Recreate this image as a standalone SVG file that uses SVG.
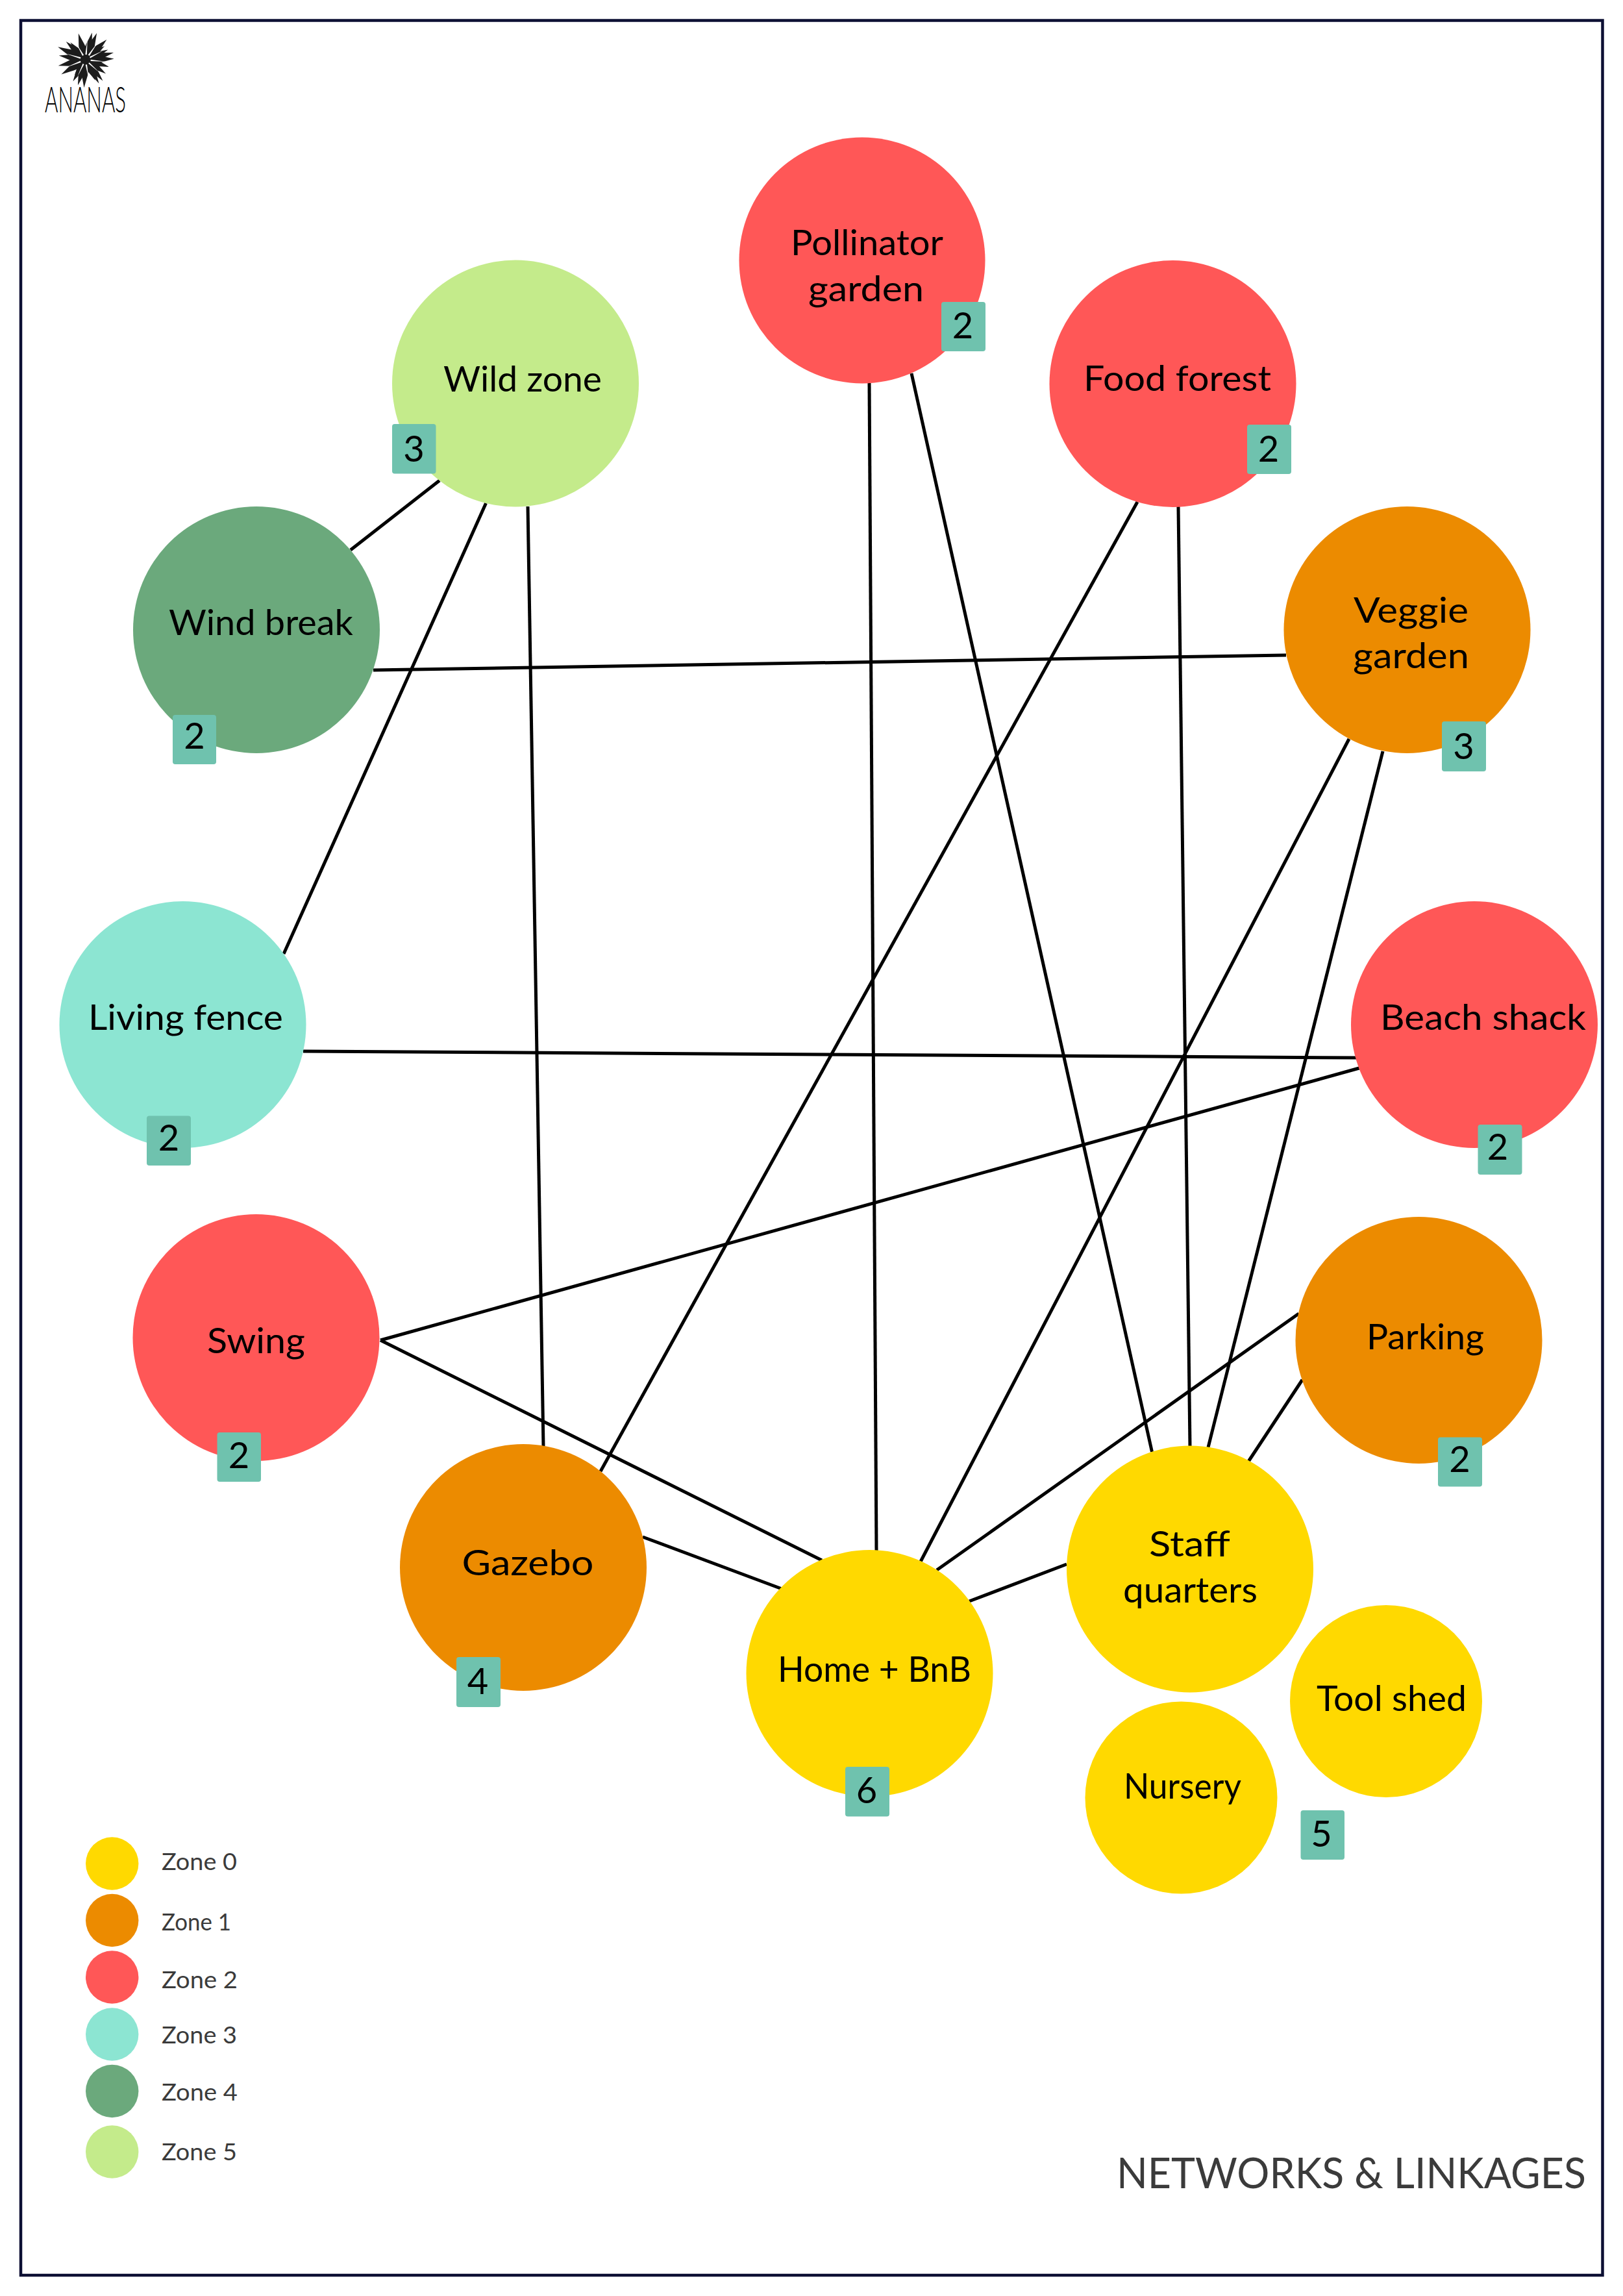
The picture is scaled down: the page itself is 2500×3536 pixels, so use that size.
<svg xmlns="http://www.w3.org/2000/svg" width="2500" height="3536" viewBox="0 0 2500 3536">
<style>
.lbl{font-family:Lato,"Noto Sans",sans-serif;font-size:55px;fill:#000}
.num{font-family:Lato,"Noto Sans",sans-serif;font-size:56px;fill:#000;text-anchor:middle}
.bdg{fill:#6fc2ae}
.leg{font-family:Lato,"Noto Sans",sans-serif;font-size:37px;fill:#3b3b3b}
.y{fill:#ffd900}.o{fill:#ec8b00}.r{fill:#ff5757}.m{fill:#8ce5d2}.g{fill:#6ba97c}.l{fill:#c4eb8b}
#connectors line{stroke:#000;stroke-width:5;fill:none}
</style>
<defs>
<path id="sp" d="M-.2 0L-.11 -.55L0 -1L.11 -.55L.2 0Z" fill="#1c1c1c"/>
<path id="sw" d="M-.025 -.2L.005 -.8L.035 -.2Z" fill="#fff"/>
</defs>
<rect width="2500" height="3536" fill="#fff"/>
<rect x="32" y="31.500" width="2436.500" height="3472.500" fill="none" stroke="#0c0f33" stroke-width="4.500"/>
<g id="logo">
<g transform="translate(131.700 92)">
<use href="#sp" transform="rotate(-15) scale(42)"/><use href="#sp" transform="rotate(13.500) scale(43)"/><use href="#sp" transform="rotate(23) scale(44.500)"/><use href="#sp" transform="rotate(46.500) scale(45)"/><use href="#sp" transform="rotate(54.400) scale(36)"/><use href="#sp" transform="rotate(66) scale(38)"/><use href="#sp" transform="rotate(75.800) scale(44.700)"/><use href="#sp" transform="rotate(88) scale(44)"/><use href="#sp" transform="rotate(106.700) scale(38)"/><use href="#sp" transform="rotate(124.400) scale(38)"/><use href="#sp" transform="rotate(140.500) scale(42)"/><use href="#sp" transform="rotate(150.400) scale(42)"/><use href="#sp" transform="rotate(154.700) scale(35)"/><use href="#sp" transform="rotate(183) scale(43)"/><use href="#sp" transform="rotate(196.700) scale(41)"/><use href="#sp" transform="rotate(210) scale(38.500)"/><use href="#sp" transform="rotate(215.500) scale(29)"/><use href="#sp" transform="rotate(239) scale(43.500)"/><use href="#sp" transform="rotate(257.600) scale(43)"/><use href="#sp" transform="rotate(279) scale(41.500)"/><use href="#sp" transform="rotate(295) scale(47)"/><use href="#sp" transform="rotate(313) scale(41)"/><use href="#sp" transform="rotate(319) scale(35.500)"/>
<use href="#sw" transform="rotate(5) scale(40)"/><use href="#sw" transform="rotate(35) scale(42)"/><use href="#sw" transform="rotate(62) scale(38)"/><use href="#sw" transform="rotate(95) scale(40)"/><use href="#sw" transform="rotate(132) scale(36)"/><use href="#sw" transform="rotate(170) scale(38)"/><use href="#sw" transform="rotate(205) scale(36)"/><use href="#sw" transform="rotate(248) scale(40)"/><use href="#sw" transform="rotate(287) scale(40)"/><use href="#sw" transform="rotate(330) scale(38)"/>
</g>
<text x="69" y="173" font-family="Lato,'Noto Sans',sans-serif" font-weight="300" font-size="56" fill="#000" textLength="125" lengthAdjust="spacingAndGlyphs">ANANAS</text>
</g>
<g id="connectors">
<line x1="677" y1="740" x2="540" y2="847"/>
<line x1="748.500" y1="775" x2="437" y2="1469"/>
<line x1="813" y1="780" x2="837" y2="2227"/>
<line x1="575" y1="1032" x2="1981" y2="1009"/>
<line x1="1339" y1="590" x2="1350" y2="2388"/>
<line x1="1404" y1="575" x2="1774.500" y2="2236"/>
<line x1="1752" y1="773" x2="925" y2="2266"/>
<line x1="1815" y1="780" x2="1833" y2="2227"/>
<line x1="2078" y1="1138" x2="1418" y2="2405"/>
<line x1="2130" y1="1157" x2="1861" y2="2229"/>
<line x1="467" y1="1619" x2="2089" y2="1629"/>
<line x1="2093.500" y1="1645" x2="586" y2="2064"/>
<line x1="586" y1="2064" x2="1266" y2="2403"/>
<line x1="990" y1="2367" x2="1203" y2="2446.500"/>
<line x1="1443" y1="2418" x2="2000.600" y2="2023"/>
<line x1="1493" y1="2466" x2="1643" y2="2409"/>
<line x1="1923.500" y1="2250" x2="2006" y2="2125"/>
</g>
<g id="n-pollinator"><circle class="r" cx="1328" cy="401" r="189.500"/><text class="lbl" x="1218" y="393" textLength="235" lengthAdjust="spacingAndGlyphs">Pollinator</text><text class="lbl" x="1245" y="464" textLength="178" lengthAdjust="spacingAndGlyphs">garden</text><rect class="bdg" x="1450" y="465" width="68" height="76" rx="4"/><text class="num" x="1483" y="521">2</text></g>
<g id="n-food-forest"><circle class="r" cx="1806.500" cy="591" r="190"/><text class="lbl" x="1669" y="602" textLength="289" lengthAdjust="spacingAndGlyphs">Food forest</text><rect class="bdg" x="1921" y="654" width="68" height="76" rx="4"/><text class="num" x="1954" y="710.500">2</text></g>
<g id="n-wild-zone"><circle class="l" cx="794" cy="590.500" r="190"/><text class="lbl" x="683" y="603" textLength="244" lengthAdjust="spacingAndGlyphs">Wild zone</text><rect class="bdg" x="604" y="653" width="67.500" height="76.500" rx="4"/><text class="num" x="637.500" y="710.500">3</text></g>
<g id="n-wind-break"><circle class="g" cx="395" cy="970" r="190"/><text class="lbl" x="260" y="978" textLength="284" lengthAdjust="spacingAndGlyphs">Wind break</text><rect class="bdg" x="266" y="1101" width="67" height="76" rx="4"/><text class="num" x="299.500" y="1153">2</text></g>
<g id="n-veggie-garden"><circle class="o" cx="2167.500" cy="970" r="190"/><text class="lbl" x="2085" y="959" textLength="177" lengthAdjust="spacingAndGlyphs">Veggie</text><text class="lbl" x="2084" y="1029" textLength="179" lengthAdjust="spacingAndGlyphs">garden</text><rect class="bdg" x="2221" y="1111" width="68" height="77" rx="4"/><text class="num" x="2254.500" y="1169">3</text></g>
<g id="n-living-fence"><circle class="m" cx="281.500" cy="1578" r="190"/><text class="lbl" x="136" y="1586" textLength="300" lengthAdjust="spacingAndGlyphs">Living fence</text><rect class="bdg" x="226" y="1718.500" width="68" height="76.500" rx="4"/><text class="num" x="260" y="1772">2</text></g>
<g id="n-beach-shack"><circle class="r" cx="2271" cy="1578" r="190"/><text class="lbl" x="2126" y="1586" textLength="317" lengthAdjust="spacingAndGlyphs">Beach shack</text><rect class="bdg" x="2276.500" y="1732" width="68" height="77" rx="4"/><text class="num" x="2307" y="1786">2</text></g>
<g id="n-swing"><circle class="r" cx="394.500" cy="2060" r="190"/><text class="lbl" x="319" y="2084" textLength="151" lengthAdjust="spacingAndGlyphs">Swing</text><rect class="bdg" x="334.500" y="2206" width="67.500" height="76" rx="4"/><text class="num" x="368" y="2261">2</text></g>
<g id="n-parking"><circle class="o" cx="2185.500" cy="2064" r="190"/><text class="lbl" x="2105" y="2078" textLength="181" lengthAdjust="spacingAndGlyphs">Parking</text><rect class="bdg" x="2215" y="2213.500" width="68" height="76" rx="4"/><text class="num" x="2248.500" y="2267">2</text></g>
<g id="n-gazebo"><circle class="o" cx="806" cy="2414" r="190"/><text class="lbl" x="711.500" y="2426" textLength="203" lengthAdjust="spacingAndGlyphs">Gazebo</text><rect class="bdg" x="703" y="2552" width="68" height="77" rx="4"/><text class="num" x="736" y="2608.500">4</text></g>
<g id="n-home-bnb"><circle class="y" cx="1339.500" cy="2577" r="190"/><text class="lbl" x="1198" y="2590" textLength="298" lengthAdjust="spacingAndGlyphs">Home + BnB</text><rect class="bdg" x="1302" y="2721" width="68" height="76.500" rx="4"/><text class="num" x="1335" y="2777">6</text></g>
<g id="n-staff-quarters"><circle class="y" cx="1833" cy="2416.500" r="190"/><text class="lbl" x="1770" y="2397" textLength="125" lengthAdjust="spacingAndGlyphs">Staff</text><text class="lbl" x="1730" y="2468" textLength="207" lengthAdjust="spacingAndGlyphs">quarters</text></g>
<g id="n-tool-shed"><circle class="y" cx="2135" cy="2620" r="148"/><text class="lbl" x="2028" y="2635" textLength="231" lengthAdjust="spacingAndGlyphs">Tool shed</text></g>
<g id="n-nursery"><circle class="y" cx="1819.500" cy="2768.500" r="148"/><text class="lbl" x="1731" y="2770" textLength="181" lengthAdjust="spacingAndGlyphs">Nursery</text></g>
<g id="n-badge-5"><rect class="bdg" x="2003.500" y="2788" width="67.500" height="76" rx="4"/><text class="num" x="2035.500" y="2844">5</text></g>
<g id="legend">
<circle class="y" cx="172.700" cy="2870" r="40.700"/><text class="leg" x="249" y="2880" textLength="116" lengthAdjust="spacingAndGlyphs">Zone 0</text>
<circle class="o" cx="172.700" cy="2957.500" r="40.700"/><text class="leg" x="249" y="2972.500" textLength="107" lengthAdjust="spacingAndGlyphs">Zone 1</text>
<circle class="r" cx="172.700" cy="3045" r="40.700"/><text class="leg" x="249" y="3062" textLength="117" lengthAdjust="spacingAndGlyphs">Zone 2</text>
<circle class="m" cx="172.700" cy="3133" r="40.700"/><text class="leg" x="249" y="3147" textLength="116" lengthAdjust="spacingAndGlyphs">Zone 3</text>
<circle class="g" cx="172.700" cy="3220.500" r="40.700"/><text class="leg" x="249" y="3234.500" textLength="117" lengthAdjust="spacingAndGlyphs">Zone 4</text>
<circle class="l" cx="172.700" cy="3314" r="40.700"/><text class="leg" x="249" y="3327" textLength="116" lengthAdjust="spacingAndGlyphs">Zone 5</text>
</g>
<text id="title" x="1720" y="3370" font-family="Lato,'Noto Sans',sans-serif" font-size="66" fill="#3b3b3b" textLength="723" lengthAdjust="spacingAndGlyphs">NETWORKS &amp; LINKAGES</text>
</svg>
